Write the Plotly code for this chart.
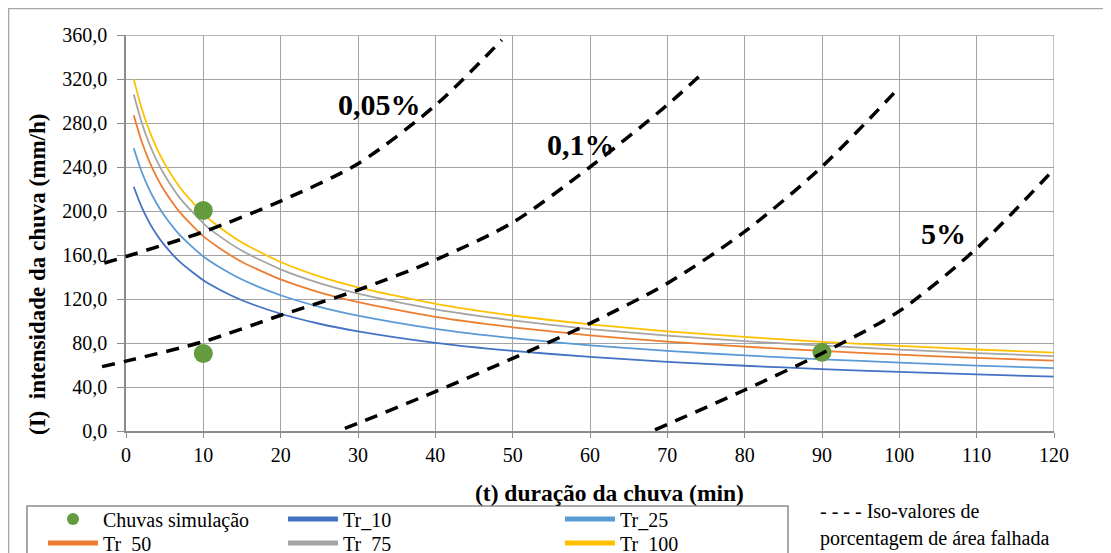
import plotly.graph_objects as go

# ---------------- data ----------------
t_idf = [1, 2, 3, 4, 5, 7, 10, 12, 15, 20, 25, 30, 40, 50, 60, 70, 80, 90, 100, 110, 120]
tr_10 = [222.0, 203.9, 189.7, 178.2, 168.7, 153.5, 137.0, 128.9, 118.9, 106.6, 97.5, 90.6,
         80.2, 72.9, 67.3, 62.9, 59.3, 56.3, 53.7, 51.4, 49.4]
tr_25 = [257.1, 236.1, 219.7, 206.4, 195.4, 177.8, 158.6, 149.3, 137.7, 123.4, 112.9, 104.9,
         92.9, 84.4, 77.9, 72.8, 68.7, 65.2, 62.2, 59.5, 57.2]
tr_50 = [287.0, 263.6, 245.3, 230.4, 218.1, 198.5, 177.1, 166.7, 153.7, 137.8, 126.1, 117.1,
         103.7, 94.3, 87.0, 81.3, 76.7, 72.8, 69.4, 66.5, 63.9]
tr_75 = [305.9, 281.0, 261.4, 245.6, 232.5, 211.5, 188.8, 177.6, 163.8, 146.9, 134.4, 124.8,
         110.5, 100.5, 92.7, 86.7, 81.7, 77.6, 74.0, 70.8, 68.1]
tr_100 = [319.9, 293.8, 273.4, 256.8, 243.1, 221.2, 197.4, 185.7, 171.3, 153.6, 140.5, 130.6,
          115.6, 105.0, 97.0, 90.6, 85.5, 81.1, 77.4, 74.1, 71.2]

sim_t = [10, 10, 90]
sim_i = [200.5, 70.5, 71.5]

iso_005_t = [-2.8, 0, 10, 20, 30, 40, 48.6]
iso_005_i = [152.7, 158.6, 181.0, 209.0, 243.0, 296.0, 355.5]
iso_01_t = [-3.1, 0, 10, 20, 30, 40, 50, 60, 70, 74.2]
iso_01_i = [58.5, 63.5, 81.2, 105.2, 128.2, 155.5, 189.5, 240.0, 296.4, 323.0]
iso_b_t = [28.3, 30, 40, 50, 60, 70, 80, 90, 100]
iso_b_i = [2.4, 7.0, 35.8, 66.0, 97.9, 134.2, 181.2, 240.3, 312.4]
iso_5_t = [68.4, 80, 90, 100, 110, 120]
iso_5_i = [1.0, 37.3, 70.6, 109.0, 166.0, 238.0]

iso_labels = ["0,05%", "0,1%", "5%"]
iso_label_t = [32.8, 58.9, 105.7]
iso_label_i = [296.4, 260.9, 180.0]

x_ticks = list(range(0, 121, 10))
y_ticks = list(range(0, 361, 40))

# ---------------- geometry (reference pixel positions; page adds an 8px body margin) ----------------
OFF = 8
WIN_W, WIN_H = 1111, 553
W, H = WIN_W - OFF, WIN_H - OFF
REF_L, REF_R, REF_T, REF_B = 90, 1054, 35, 431   # drawing region (for overlay axes), reference px
AXL = 126                                        # reference px x of t = 0
ML, MT = REF_L - OFF, REF_T - OFF
MR = W - (REF_R - OFF)
MB = H - (REF_B - OFF)
PW = REF_R - REF_L
PH = REF_B - REF_T
X_MAX, Y_MAX = 120, 360
ppu = (REF_R - AXL) / X_MAX   # pixels per minute


def px(xp):
    return (xp - REF_L) / PW


def py(yp):
    return (REF_B - yp) / PH


FONT = "Liberation Serif"
GRID = "#A3A3A3"

fig = go.Figure()

curves = [("Tr_10", tr_10, "#4472C4"), ("Tr_25", tr_25, "#5B9BD5"),
          ("Tr_50", tr_50, "#ED7D31"), ("Tr_75", tr_75, "#A5A5A5"),
          ("Tr_100", tr_100, "#FFC000")]

slots = {"Chuvas simulação": (43, 519), "Tr_10": (283, 519), "Tr_25": (560, 519),
         "Tr_50": (43, 543), "Tr_75": (283, 543), "Tr_100": (560, 543)}
order = ["Chuvas simulação", "Tr_10", "Tr_25", "Tr_50", "Tr_75", "Tr_100"]
legend_ids = {name: ("legend" if i == 0 else f"legend{i + 1}") for i, name in enumerate(order)}

for name, vals, col in curves:
    fig.add_trace(go.Scatter(x=t_idf, y=vals, mode="lines", name=name,
                             line=dict(color=col, width=1.8, shape="spline", smoothing=0.6),
                             legend=legend_ids[name], xaxis="x", yaxis="y"))

fig.add_trace(go.Scatter(x=sim_t, y=sim_i, mode="markers", name="Chuvas simulação",
                         marker=dict(color="#649B3F", size=19),
                         legend=legend_ids["Chuvas simulação"], xaxis="x", yaxis="y"))

for tt, ii in [(iso_005_t, iso_005_i), (iso_01_t, iso_01_i), (iso_b_t, iso_b_i), (iso_5_t, iso_5_i)]:
    fig.add_trace(go.Scatter(x=tt, y=ii, mode="lines", showlegend=False, hoverinfo="skip",
                             line=dict(color="black", width=3.5, dash="13px,9px",
                                       shape="spline", smoothing=0.8),
                             xaxis="x2", yaxis="y2"))

annotations = []
for lab, tx, iy in zip(iso_labels, iso_label_t, iso_label_i):
    annotations.append(dict(x=tx, y=iy, xref="x", yref="y", text=f"<b>{lab}</b>", showarrow=False,
                            xanchor="center", yanchor="middle",
                            font=dict(family=FONT, size=30, color="black")))

annotations.append(dict(x=px(609.5), y=py(493), xref="paper", yref="paper",
                        xanchor="center", yanchor="middle",
                        text="<b>(t) duração da chuva (min)</b>", showarrow=False,
                        font=dict(family=FONT, size=23.5, color="black")))
annotations.append(dict(x=px(37), y=py(275), xref="paper", yref="paper", textangle=-90,
                        xanchor="center", yanchor="middle",
                        text="<b>(I)  intensidade da chuva (mm/h)</b>", showarrow=False,
                        font=dict(family=FONT, size=23, color="black")))
annotations.append(dict(x=px(818), y=py(511), xref="paper", yref="paper",
                        xanchor="left", yanchor="middle",
                        text="- - - - Iso-valores de", showarrow=False,
                        font=dict(family=FONT, size=20, color="black")))
annotations.append(dict(x=px(818), y=py(538), xref="paper", yref="paper",
                        xanchor="left", yanchor="middle",
                        text="porcentagem de área falhada", showarrow=False,
                        font=dict(family=FONT, size=20, color="black")))

shapes = [
    dict(type="rect", xref="paper", yref="paper", x0=px(8.7), x1=px(1130), y0=py(8.7), y1=py(580),
         line=dict(color="#A6A6A6", width=1.3), layer="below"),
    dict(type="rect", xref="paper", yref="paper", x0=px(27), x1=px(788), y0=py(506), y1=py(580),
         line=dict(color="#8C8C8C", width=1.5), layer="below"),
]

layout = dict(
    width=W, height=H,
    margin=dict(l=ML, r=MR, t=MT, b=MB, autoexpand=False),
    paper_bgcolor="white", plot_bgcolor="rgba(0,0,0,0)",
    separators=", ",
    font=dict(family=FONT, size=20, color="black"),
    xaxis=dict(domain=[px(AXL), 1], range=[0, X_MAX], tickvals=x_ticks, showgrid=True,
               gridcolor=GRID, gridwidth=1.3, showline=True, linecolor="#8C8C8C", linewidth=1.6,
               mirror=False, ticks="outside", ticklen=5, tickcolor="#8C8C8C", tickwidth=1.3,
               zeroline=False, tickfont=dict(family=FONT, size=20, color="black"),
               anchor="y", fixedrange=True),
    yaxis=dict(domain=[0, 1], range=[0, Y_MAX], tickvals=y_ticks, tickformat=".1f", showgrid=True,
               gridcolor=GRID, gridwidth=1.3, showline=True, linecolor="#8C8C8C", linewidth=1.6,
               ticks="outside", ticklen=7, tickcolor="#8C8C8C", tickwidth=1.3,
               zeroline=False, tickfont=dict(family=FONT, size=20, color="black"),
               anchor="x", ticklabelstandoff=6, fixedrange=True),
    xaxis2=dict(domain=[0, 1], range=[-(AXL - REF_L) / ppu, X_MAX], visible=False, anchor="y2",
                fixedrange=True),
    yaxis2=dict(domain=[0, 1], range=[0, Y_MAX], visible=False, anchor="x2", fixedrange=True),
    annotations=annotations, shapes=shapes,
)

for name in order:
    lx, ly = slots[name]
    layout[legend_ids[name]] = dict(
        x=px(lx), y=py(ly), xanchor="left", yanchor="middle", orientation="h",
        bgcolor="rgba(0,0,0,0)", borderwidth=0, itemwidth=50, itemsizing="constant",
        font=dict(family=FONT, size=20, color="black"), tracegroupgap=0,
    )

fig.update_layout(**layout)
fig.add_shape(type="line", xref="x", yref="y", x0=0, x1=X_MAX, y0=Y_MAX, y1=Y_MAX,
              line=dict(color=GRID, width=1.3))
fig.add_shape(type="line", xref="x", yref="y", x0=X_MAX, x1=X_MAX, y0=0, y1=Y_MAX,
              line=dict(color=GRID, width=1.3))

fig.write_html("out.html")
